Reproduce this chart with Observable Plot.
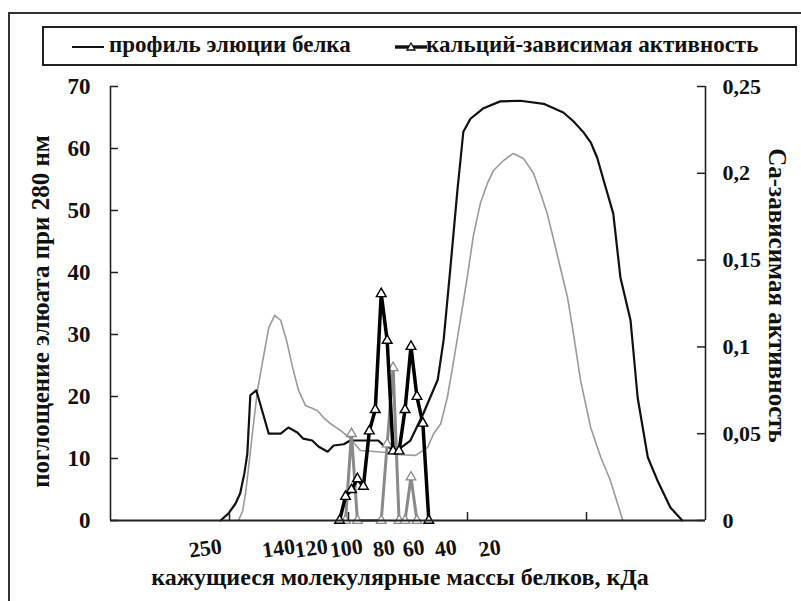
<!DOCTYPE html>
<html>
<head>
<meta charset="utf-8">
<script src="https://cdn.jsdelivr.net/npm/d3@7"></script>
<script src="https://cdn.jsdelivr.net/npm/@observablehq/plot@0.6"></script>
<style>
  html, body { margin: 0; padding: 0; background: #fff; }
  body { width: 801px; height: 601px; position: relative; overflow: hidden;
         font-family: "Liberation Serif", "Times New Roman", serif; font-weight: bold; }
  #frame { position: absolute; left: 8px; top: 12px; width: 820px; height: 620px;
           border: 2px solid #333; box-sizing: border-box; pointer-events: none; }
  #legend { position: absolute; left: 42px; top: 26px; width: 755px; height: 40px;
            border: 2px solid #222; box-sizing: border-box; background: #fff; }
  .lg { position: absolute; top: 4px; font-size: 23px; color: #111; white-space: nowrap; }
  .sw { position: absolute; }
  #chart { position: absolute; left: 0; top: 0; }
</style>
</head>
<body>
<div id="chart"></div>
<div id="frame"></div>
<div id="legend">
  <svg class="sw" style="left:26px;top:7px" width="36" height="24"><line x1="2" y1="12" x2="34" y2="12" stroke="#111" stroke-width="2"/></svg>
  <div class="lg" style="left:65px">профиль элюции белка</div>
  <svg class="sw" style="left:349px;top:7px" width="36" height="24"><line x1="2" y1="12" x2="34" y2="12" stroke="#111" stroke-width="3.4"/><path d="M18,8 L22,15 L14,15 Z" fill="#fff" stroke="#111" stroke-width="1.3"/></svg>
  <div class="lg" style="left:382px">кальций-зависимая активность</div>
</div>
<script>
// ---- Data ----
// Protein elution profile, run 1 (black): fraction number, A280
const profBlackFrac = [19.0,20.3,21.5,22.3,23.0,23.5,24.0,25.0,27.1,29.1,30.4,31.9,32.9,34.4,35.5,37.0,38.0,39.7,40.8,45.5,46.4,48.7,50.9,53.1,55.5,56.5,57.6,58.8,59.8,61.0,63.2,66.0,69.4,73.3,76.6,78.3,80.0,81.2,82.3,83.4,85.0,86.2,87.9,89.1,90.8,92.4,94.6,96.6];
const profBlackAbs  = [0,1.1,2.7,4.4,7.6,10.8,20.2,21.0,14.0,14.0,15.0,14.2,13.2,12.9,11.9,11.1,12.1,12.3,12.9,12.9,12.1,11.3,12.9,17.3,22.7,29.2,40.5,53.2,62.7,64.8,66.5,67.6,67.7,67.2,65.8,64.4,62.6,61.0,58.5,54.8,49.5,39.2,32.3,19.8,10.2,6.5,2.1,0];
// Protein elution profile, run 2 (grey)
const profGreyFrac = [22.0,22.7,23.2,23.7,24.4,25.2,26.0,27.1,28.1,29.1,30.1,31.1,32.1,33.3,34.4,35.3,36.3,37.5,39.2,40.5,42.5,46.4,49.2,51.8,53.8,54.8,56.0,57.1,58.1,59.3,60.5,61.5,62.7,63.9,64.9,66.6,68.2,69.9,71.6,72.8,73.9,75.0,76.1,77.3,78.3,79.5,81.2,82.9,84.5,86.6];
const profGreyAbs  = [0,1.5,4.4,8.5,14.5,21.0,25.3,31.1,33.1,32.3,29.0,24.7,21.0,18.5,18.1,17.7,16.6,15.6,14.5,13.5,11.3,11.0,10.6,10.5,11.8,14.0,15.6,19.8,25.3,32.3,39.5,46.0,51.3,54.5,56.5,58.1,59.2,58.4,56.0,52.7,49.5,45.2,40.8,36.0,30.2,22.6,15.0,10.2,6.5,0];
// Ca-dependent activity (right axis)
const actFrac      = [39,40,41,42,43,44,45,46,47,48,49,50,51,52,53,54];
const actBlack     = [0,0.0138,0.0177,0.024,0.0196,0.0515,0.0638,0.1306,0.1037,0.040,0.040,0.0638,0.1002,0.0714,0.056,0];
const actGrey      = [null,0,0.050,0,null,null,null,0,0.044,0.088,0,0,0.025,0,null,null];
// Axes
const absTicks   = [0,10,20,30,40,50,60,70];
const actTicks   = [0,0.05,0.1,0.15,0.2,0.25];
const actLabels  = ["0","0,05","0,1","0,15","0,2","0,25"];
const xTickFrac  = [20.5,40.5,60.5,80.5];
const massLabels = ["250","140","120","100","80","60","40","20"];
const massFrac   = [16.6,28.9,34.4,40.3,46.6,51.6,57.0,64.4];
const yLabel = "поглощение элюата при 280 нм";
const y2Label = "Са-зависимая активность";
const xLabel = "кажущиеся молекулярные массы белков, кДа";

// ---- Build tables ----
const ACT_TO_ABS = 70 / 0.25;
const black = profBlackFrac.map((f, i) => ({f, v: profBlackAbs[i]}));
const grey  = profGreyFrac.map((f, i) => ({f, v: profGreyAbs[i]}));
const aBlack = actFrac.map((f, i) => ({f, a: actBlack[i]}));
const aGrey  = actFrac.map((f, i) => ({f, a: actGrey[i]})).filter(d => d.a != null);
const actY = d => d.a * ACT_TO_ABS;

const font = "Liberation Serif";
const chart = Plot.plot({
  width: 801, height: 601,
  marginLeft: 110, marginRight: 96, marginTop: 86, marginBottom: 81,
  x: {domain: [0.5, 100.5], axis: null},
  y: {domain: [0, 70], axis: null},
  style: {fontFamily: font, fontWeight: "bold", color: "#111", background: "transparent"},
  marks: [
    // profiles
    Plot.line(grey, {x: "f", y: "v", stroke: "#9a9a9a", strokeWidth: 1.6}),
    Plot.line(black, {x: "f", y: "v", stroke: "#111", strokeWidth: 2.2}),
    // activities
    Plot.line(aGrey, {x: "f", y: actY, stroke: "#8a8a8a", strokeWidth: 3}),
    Plot.dot(aGrey, {x: "f", y: actY, symbol: "triangle", r: 3.6, fill: "#fff", stroke: "#8a8a8a", strokeWidth: 1.3}),
    Plot.line(aBlack, {x: "f", y: actY, stroke: "#000", strokeWidth: 3.5}),
    Plot.dot(aBlack, {x: "f", y: actY, symbol: "triangle", r: 3.6, fill: "#fff", stroke: "#000", strokeWidth: 1.4}),
    // axis lines
    Plot.ruleX([0.5], {y1: 0, y2: 70, stroke: "#222", strokeWidth: 1.6}),
    Plot.ruleX([100.5], {y1: 0, y2: 70, stroke: "#222", strokeWidth: 1.6}),
    Plot.ruleY([0], {x1: 0.5, x2: 100.5, stroke: "#222", strokeWidth: 2}),
    // inward tick marks
    Plot.ruleY(absTicks, {x1: 0.5, x2: 0.5 + 8 / 5.95, stroke: "#222", strokeWidth: 1.5}),
    Plot.ruleY(actTicks.map(t => t * ACT_TO_ABS), {x1: 100.5 - 8 / 5.95, x2: 100.5, stroke: "#222", strokeWidth: 1.5}),
    Plot.ruleX(xTickFrac, {y1: 0, y2: 8 / 6.2, stroke: "#222", strokeWidth: 1.5}),
    // tick labels
    Plot.axisY({anchor: "left", ticks: absTicks, tickSize: 0, tickPadding: 20, fontSize: 23, label: null, tickFormat: d => String(d)}),
    Plot.axisY({anchor: "right", ticks: actTicks.map(t => t * ACT_TO_ABS), tickSize: 0, tickPadding: 17, fontSize: 22, label: null,
                tickFormat: d => actLabels[actTicks.findIndex(t => Math.abs(t * ACT_TO_ABS - d) < 1e-6)]}),
    // molecular mass markers
    Plot.text(massLabels, {x: (d, i) => massFrac[i], text: d => d, frameAnchor: "bottom", dy: 35, rotate: -8, fontSize: 22}),
    // axis titles
    Plot.text([xLabel], {frameAnchor: "bottom", dx: -8, dy: 64, fontSize: 24}),
    Plot.text([yLabel], {frameAnchor: "left", textAnchor: "middle", dx: -70, dy: 8, rotate: -90, fontSize: 25}),
    Plot.text([y2Label], {frameAnchor: "right", textAnchor: "middle", dx: 71, dy: -8, rotate: 90, fontSize: 25})
  ]
});
document.getElementById("chart").appendChild(chart);
</script>
</body>
</html>
